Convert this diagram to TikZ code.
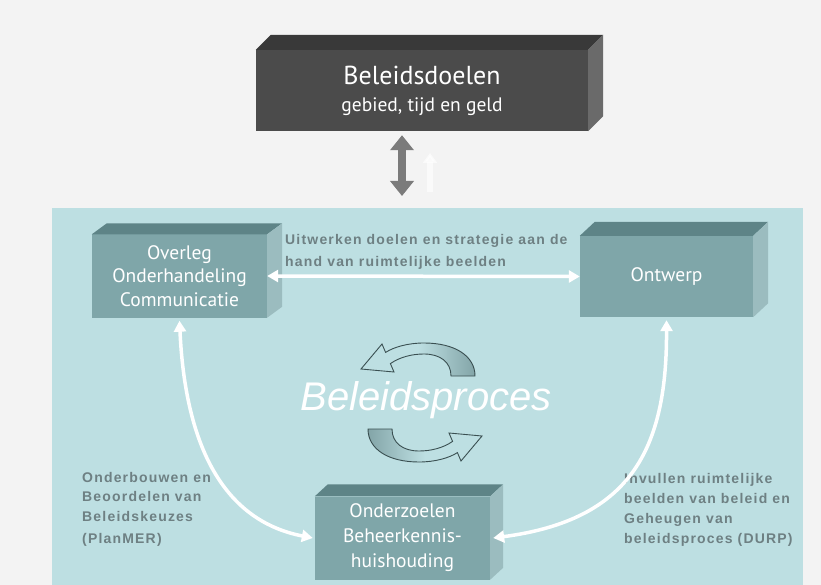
\documentclass[tikz,border=0pt]{standalone}
\usepackage{fontspec}
\setmainfont{Liberation Sans}
\newfontfamily\boxfont{PT Sans}
\newfontfamily\lblfont[LetterSpace=8.5]{Liberation Sans}
\usetikzlibrary{arrows.meta,calc}
\definecolor{bgc}{HTML}{F3F3F3}
\definecolor{panel}{HTML}{BDDFE2}
\definecolor{gfront}{HTML}{4B4B4B}
\definecolor{gtop}{HTML}{393939}
\definecolor{gside}{HTML}{6A6A6A}
\definecolor{tfront}{HTML}{7FA6A9}
\definecolor{ttop}{HTML}{5E8487}
\definecolor{tside}{HTML}{9BBCBF}
\definecolor{lbl}{HTML}{6E8083}
\definecolor{cycdark}{HTML}{83A5A8}
\definecolor{cycline}{HTML}{3A4F51}
\definecolor{garrow}{HTML}{7B7B7B}
\newcommand\mycuboid[5]{%
  \fill[#4] (#1.north west) -- ++(#2,-#3) -- ($(#1.north east)+(#2,-#3)$) -- (#1.north east) -- cycle;
  \fill[#5] (#1.north east) -- ++(#2,-#3) -- ($(#1.south east)+(#2,-#3)$) -- (#1.south east) -- cycle;}
\tikzset{
  box/.style={fill=tfront, inner sep=0pt, text=white, align=center,
    font=\boxfont\fontsize{19.5}{23.5}\selectfont},
  gbox/.style={fill=gfront, inner sep=0pt, text=white, align=center},
  lbltext/.style={inner sep=0pt, text=lbl, align=left,
    font=\lblfont\bfseries\fontsize{14}{19.5}\selectfont},
  whitearrow/.style={draw=white, line width=3.5pt,
    {Triangle[length=11pt,width=12pt]}-{Triangle[length=11pt,width=12pt]}},
  cycline/.style={draw=cycline, line width=0.9pt}
}
\begin{document}
\begin{tikzpicture}[x=1pt,y=-1pt]
\useasboundingbox (0,0) rectangle (821,585);
\fill[bgc] (0,0) rectangle (821,585);
\fill[panel] (52,208) rectangle (803,585);

% top goal box
\node[gbox, minimum width=332pt, minimum height=81pt, font=\boxfont\fontsize{26}{27}\selectfont] (goal) at (422,90.5)
  {Beleidsdoelen\\{\fontsize{19.5}{27}\selectfont gebied, tijd en geld}};
\mycuboid{goal}{15}{15}{gtop}{gside}

% gray double arrow
\coordinate (gend) at (402,196);
\draw[draw=garrow, line width=8pt, {Triangle[length=15pt,width=23pt]}-{Triangle[length=15pt,width=23pt]}]
  ([xshift=-20pt,yshift=-4pt]goal.south) -- (gend);
\coordinate (ghostA) at (430,192);
\coordinate (ghostB) at (430,153);
\draw[draw=white, opacity=0.6, line width=6pt, -{Triangle[length=10pt,width=14pt]}] (ghostA) -- (ghostB);

% teal boxes
\node[box, minimum width=175pt, minimum height=83pt] (overleg) at (179.5,276)
  {Overleg\\Onderhandeling\\Communicatie};
\mycuboid{overleg}{15}{11}{ttop}{tside}
\node[box, minimum width=173pt, minimum height=81pt] (ontwerp) at (666.5,276.5) {Ontwerp};
\mycuboid{ontwerp}{15}{14}{ttop}{tside}
\node[box, minimum width=175pt, minimum height=83pt, font=\boxfont\fontsize{19.5}{25}\selectfont] (onderz) at (402.5,538)
  {Onderzoelen\\Beheerkennis-\\huishouding};
\mycuboid{onderz}{13}{12}{ttop}{tside}

% labels
\node[lbltext, anchor=north west, font=\lblfont\bfseries\fontsize{14}{22}\selectfont] (ltop) at (285,234)
  {Uitwerken doelen en strategie aan de\\hand van ruimtelijke beelden};
\node[lbltext, anchor=north west] (lleft) at (82,472)
  {Onderbouwen en\\Beoordelen van\\Beleidskeuzes\\[3pt](PlanMER)};
\node[lbltext, anchor=north west, font=\lblfont\bfseries\fontsize{14}{20}\selectfont] (lright) at (624,473)
  {Invullen ruimtelijke\\beelden van beleid en\\Geheugen van\\beleidsproces (DURP)};

% central title
\node[text=white, inner sep=0pt, font=\itshape\fontsize{40}{41}\selectfont] (title) at (426,400) {Beleidsproces};

% white connectors
\draw[whitearrow] (overleg.east) -- (ontwerp.west);
\draw[whitearrow] ([yshift=-3pt]overleg.south) .. controls (185,440) and (220,520) .. ([xshift=-2pt]onderz.west);
\draw[whitearrow] ([yshift=-3pt]ontwerp.south) .. controls (667,450) and (630,520) .. ([xshift=3pt]onderz.east);

% cycle arrows
\path[cycline, left color=panel, right color=cycdark, middle color=panel]
  (475,376) .. controls (475,356) and (455,343) .. (424,343)
  .. controls (408,343) and (394,347) .. (385.6,352.4) -- (382,344) -- (361,369) -- (394,372) -- (390.4,363.6)
  .. controls (400,357) and (412,354) .. (424,354) .. controls (440,354) and (451,362) .. (451,376) -- cycle;
\path[cycline, left color=cycdark, right color=panel, middle color=panel]
  (368,429) .. controls (368,449) and (388,462) .. (419,462)
  .. controls (435,462) and (449,458) .. (457.4,452.6) -- (461,461) -- (482,436) -- (449,433) -- (452.6,441.4)
  .. controls (443,448) and (431,451) .. (419,451) .. controls (403,451) and (392,443) .. (392,429) -- cycle;
\end{tikzpicture}
\end{document}
